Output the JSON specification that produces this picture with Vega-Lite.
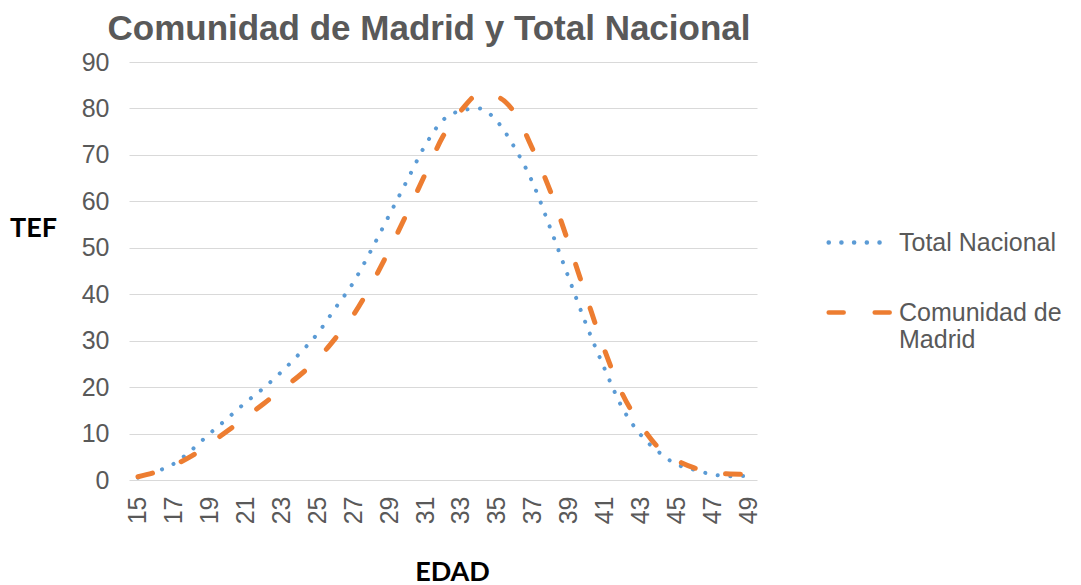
{
  "$schema": "https://vega.github.io/schema/vega-lite/v6.json",
  "width": 628,
  "height": 418,
  "autosize": {"type": "none"},
  "padding": {"left": 129, "top": 62, "right": 324, "bottom": 105},
  "background": "white",
  "config": {"view": {"stroke": null}},
  "title": {"text": "Comunidad de Madrid y Total Nacional", "fontSize": 35, "font": "Liberation Sans", "fontWeight": "bold", "color": "#595959", "anchor": "middle", "dx": -14, "offset": 3, "frame": "group"},
  "datasets": {
    "tef": [
      {"edad": 15, "serie": "Total Nacional", "tef": 0.5},
      {"edad": 16, "serie": "Total Nacional", "tef": 1.8},
      {"edad": 17, "serie": "Total Nacional", "tef": 3.5},
      {"edad": 18, "serie": "Total Nacional", "tef": 6.5},
      {"edad": 19, "serie": "Total Nacional", "tef": 10},
      {"edad": 20, "serie": "Total Nacional", "tef": 13.3},
      {"edad": 21, "serie": "Total Nacional", "tef": 16.7},
      {"edad": 22, "serie": "Total Nacional", "tef": 19.8},
      {"edad": 23, "serie": "Total Nacional", "tef": 23.3},
      {"edad": 24, "serie": "Total Nacional", "tef": 27.2},
      {"edad": 25, "serie": "Total Nacional", "tef": 31.5},
      {"edad": 26, "serie": "Total Nacional", "tef": 37},
      {"edad": 27, "serie": "Total Nacional", "tef": 42.5},
      {"edad": 28, "serie": "Total Nacional", "tef": 49.5},
      {"edad": 29, "serie": "Total Nacional", "tef": 57},
      {"edad": 30, "serie": "Total Nacional", "tef": 64.5},
      {"edad": 31, "serie": "Total Nacional", "tef": 72},
      {"edad": 32, "serie": "Total Nacional", "tef": 77.5},
      {"edad": 33, "serie": "Total Nacional", "tef": 79.5},
      {"edad": 34, "serie": "Total Nacional", "tef": 80},
      {"edad": 35, "serie": "Total Nacional", "tef": 77.3},
      {"edad": 36, "serie": "Total Nacional", "tef": 71.5},
      {"edad": 37, "serie": "Total Nacional", "tef": 64},
      {"edad": 38, "serie": "Total Nacional", "tef": 54},
      {"edad": 39, "serie": "Total Nacional", "tef": 43.6},
      {"edad": 40, "serie": "Total Nacional", "tef": 33.3},
      {"edad": 41, "serie": "Total Nacional", "tef": 24},
      {"edad": 42, "serie": "Total Nacional", "tef": 15.5},
      {"edad": 43, "serie": "Total Nacional", "tef": 9.8},
      {"edad": 44, "serie": "Total Nacional", "tef": 6.1},
      {"edad": 45, "serie": "Total Nacional", "tef": 3.4},
      {"edad": 46, "serie": "Total Nacional", "tef": 2.2},
      {"edad": 47, "serie": "Total Nacional", "tef": 1.2},
      {"edad": 48, "serie": "Total Nacional", "tef": 0.8},
      {"edad": 49, "serie": "Total Nacional", "tef": 0.9},
      {"edad": 15, "serie": "Comunidad de Madrid", "tef": 0.7},
      {"edad": 16, "serie": "Comunidad de Madrid", "tef": 1.7},
      {"edad": 17, "serie": "Comunidad de Madrid", "tef": 3.2},
      {"edad": 18, "serie": "Comunidad de Madrid", "tef": 5.2},
      {"edad": 19, "serie": "Comunidad de Madrid", "tef": 7.8},
      {"edad": 20, "serie": "Comunidad de Madrid", "tef": 10.6},
      {"edad": 21, "serie": "Comunidad de Madrid", "tef": 13.5},
      {"edad": 22, "serie": "Comunidad de Madrid", "tef": 16.4},
      {"edad": 23, "serie": "Comunidad de Madrid", "tef": 19.5},
      {"edad": 24, "serie": "Comunidad de Madrid", "tef": 22.5},
      {"edad": 25, "serie": "Comunidad de Madrid", "tef": 26},
      {"edad": 26, "serie": "Comunidad de Madrid", "tef": 30.5},
      {"edad": 27, "serie": "Comunidad de Madrid", "tef": 35.5},
      {"edad": 28, "serie": "Comunidad de Madrid", "tef": 42},
      {"edad": 29, "serie": "Comunidad de Madrid", "tef": 49.5},
      {"edad": 30, "serie": "Comunidad de Madrid", "tef": 57.5},
      {"edad": 31, "serie": "Comunidad de Madrid", "tef": 65.8},
      {"edad": 32, "serie": "Comunidad de Madrid", "tef": 74},
      {"edad": 33, "serie": "Comunidad de Madrid", "tef": 79.5},
      {"edad": 34, "serie": "Comunidad de Madrid", "tef": 83},
      {"edad": 35, "serie": "Comunidad de Madrid", "tef": 82.5},
      {"edad": 36, "serie": "Comunidad de Madrid", "tef": 79},
      {"edad": 37, "serie": "Comunidad de Madrid", "tef": 71.2},
      {"edad": 38, "serie": "Comunidad de Madrid", "tef": 62},
      {"edad": 39, "serie": "Comunidad de Madrid", "tef": 51},
      {"edad": 40, "serie": "Comunidad de Madrid", "tef": 39.3},
      {"edad": 41, "serie": "Comunidad de Madrid", "tef": 28},
      {"edad": 42, "serie": "Comunidad de Madrid", "tef": 18.5},
      {"edad": 43, "serie": "Comunidad de Madrid", "tef": 12},
      {"edad": 44, "serie": "Comunidad de Madrid", "tef": 7},
      {"edad": 45, "serie": "Comunidad de Madrid", "tef": 4.3},
      {"edad": 46, "serie": "Comunidad de Madrid", "tef": 2.6},
      {"edad": 47, "serie": "Comunidad de Madrid", "tef": 1.5},
      {"edad": 48, "serie": "Comunidad de Madrid", "tef": 1.3},
      {"edad": 49, "serie": "Comunidad de Madrid", "tef": 1.2}
    ]
  },
  "data": {"name": "tef"},
  "encoding": {
    "x": {
      "field": "edad", "type": "ordinal",
      "scale": {"type": "point", "padding": 0.5},
      "axis": {
        "values": [15, 17, 19, 21, 23, 25, 27, 29, 31, 33, 35, 37, 39, 41, 43, 45, 47, 49],
        "labelAngle": -90, "labelFont": "Liberation Sans", "labelFontSize": 25, "labelColor": "#595959",
        "labelPadding": 16, "ticks": false, "domain": false, "grid": false,
        "title": "EDAD", "titleFont": "Lato", "titleFontSize": 27, "titleFontWeight": "bold", "titleColor": "#000000",
        "titleX": 323, "titleY": 92, "titleAlign": "center", "titleBaseline": "middle"
      }
    },
    "y": {
      "field": "tef", "type": "quantitative",
      "scale": {"domain": [0, 90]},
      "axis": {
        "values": [0, 10, 20, 30, 40, 50, 60, 70, 80, 90],
        "labelFont": "Liberation Sans", "labelFontSize": 25, "labelColor": "#595959", "labelPadding": 20,
        "ticks": false, "domain": false, "gridColor": "#d9d9d9", "gridWidth": 1.2,
        "title": "TEF", "titleAngle": 0, "titleFont": "Lato", "titleFontSize": 27, "titleFontWeight": "bold", "titleColor": "#000000",
        "titleX": -96, "titleY": 166, "titleAlign": "center", "titleBaseline": "middle"
      }
    },
    "color": {
      "field": "serie", "type": "nominal",
      "scale": {"domain": ["Total Nacional", "Comunidad de Madrid"], "range": ["#5B9BD5", "#ED7D31"]},
      "legend": {
        "orient": "none", "legendX": 697, "legendY": 147, "title": null,
        "symbolType": "stroke", "symbolSize": 3800, "symbolStrokeWidth": 4.5,
        "labelFont": "Liberation Sans", "labelFontSize": 25, "labelColor": "#595959", "labelOffset": 6, "labelLimit": 300,
        "rowPadding": 23,
        "labelExpr": "datum.label == 'Comunidad de Madrid' ? ['Comunidad de', 'Madrid'] : datum.label",
        "encode": {"symbols": {"update": {"strokeCap": {"value": "round"}}}}
      }
    },
    "strokeDash": {
      "field": "serie", "type": "nominal",
      "scale": {"domain": ["Total Nacional", "Comunidad de Madrid"], "range": [[0.1, 12.6], [15, 31]]}
    }
  },
  "layer": [
    {
      "transform": [{"filter": "datum.serie == 'Total Nacional'"}],
      "mark": {"type": "line", "interpolate": "monotone", "strokeCap": "round", "strokeWidth": 4}
    },
    {
      "transform": [{"filter": "datum.serie == 'Comunidad de Madrid'"}],
      "mark": {"type": "line", "interpolate": "monotone", "strokeCap": "round", "strokeWidth": 5}
    }
  ]
}
